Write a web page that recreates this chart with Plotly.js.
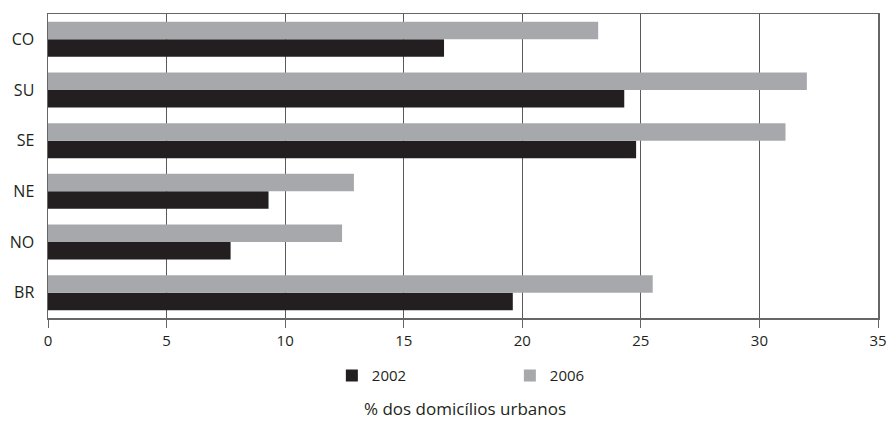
<!DOCTYPE html>
<html>
<head>
<meta charset="utf-8">
<script src="https://cdn.plot.ly/plotly-3.0.1.min.js"></script>
<style>html,body{margin:0;padding:0;background:#fff;}#chart{width:888px;height:423px;}</style>
</head>
<body>
<div id="chart"></div>
<script>
const regions = ["BR", "NO", "NE", "SE", "SU", "CO"];
const values2002 = [19.6, 7.7, 9.3, 24.8, 24.3, 16.7];
const values2006 = [25.5, 12.4, 12.9, 31.1, 32.0, 23.2];
const seriesNames = ["2002", "2006"];
const xTicks = [0, 5, 10, 15, 20, 25, 30, 35];
const axisTitle = "% dos domicílios urbanos";

const FONT = "'Open Sans', 'Noto Sans', sans-serif";

const data = [
  {type: "bar", orientation: "h", name: seriesNames[0], y: regions, x: values2002,
   marker: {color: "#231f20"}, hoverinfo: "x+y"},
  {type: "bar", orientation: "h", name: seriesNames[1], y: regions, x: values2006,
   marker: {color: "#a7a8ab"}, hoverinfo: "x+y"}
];

const layout = {
  width: 888, height: 423,
  margin: {l: 48, r: 10, t: 14, b: 105},
  paper_bgcolor: "#fff", plot_bgcolor: "#fff",
  barmode: "group", bargap: 0.31, bargroupgap: 0,
  font: {family: FONT, color: "#231f20"},
  showlegend: true,
  legend: {orientation: "h", x: 0.342, xanchor: "left", y: -0.19, yanchor: "middle",
           entrywidth: 133, entrywidthmode: "pixels", traceorder: "normal",
           font: {size: 15, family: FONT}, bgcolor: "rgba(0,0,0,0)"},
  xaxis: {range: [0, 35], tickvals: xTicks, ticktext: xTicks.map(String),
          showgrid: true, gridcolor: "#5a5a5a", gridwidth: 1,
          zeroline: false, showline: true, linecolor: "#666", linewidth: 1.5, mirror: true,
          ticks: "outside", ticklen: 8, tickcolor: "#666", tickwidth: 1,
          tickfont: {size: 15, family: FONT}, fixedrange: true},
  yaxis: {type: "category", categoryorder: "array", categoryarray: regions,
          showgrid: false, zeroline: false, showline: true, linecolor: "#666", linewidth: 1.5, mirror: true,
          ticks: "", tickfont: {size: 16, family: FONT}, ticklabelstandoff: 9, fixedrange: true},
  annotations: [{text: axisTitle, xref: "paper", yref: "paper", x: 0.502, y: -0.298,
                 xanchor: "center", yanchor: "middle", showarrow: false,
                 font: {size: 17, family: FONT, color: "#231f20"}}]
};

Plotly.newPlot("chart", data, layout, {displayModeBar: false, staticPlot: true});
</script>
</body>
</html>
